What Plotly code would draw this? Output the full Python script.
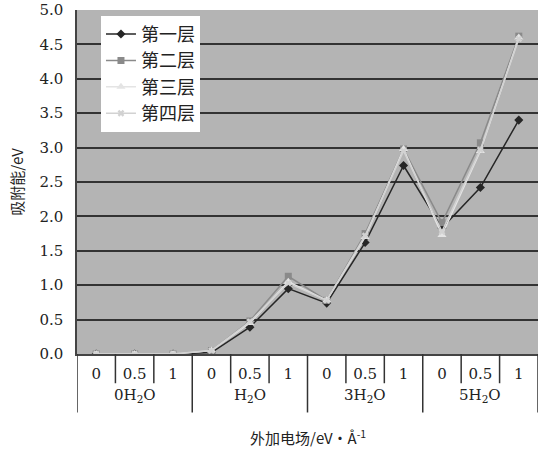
import plotly.graph_objects as go

# Grouped x categories: water content / applied field
group_names = ["0H<sub>2</sub>O", "H<sub>2</sub>O", "3H<sub>2</sub>O", "5H<sub>2</sub>O"]
field_labels = ["0", "0.5", "1"]

# Adsorption energy (eV) for each layer
layer1 = [0.0, 0.0, 0.0, 0.02, 0.39, 0.95, 0.74, 1.62, 2.74, 1.83, 2.42, 3.40]
layer2 = [0.0, 0.0, 0.0, 0.05, 0.48, 1.13, 0.78, 1.75, 2.98, 1.91, 3.07, 4.62]
layer3 = [0.0, 0.0, 0.0, 0.05, 0.45, 1.05, 0.78, 1.70, 2.98, 1.73, 2.95, 4.60]
layer4 = [0.0, 0.0, 0.0, 0.05, 0.47, 1.03, 0.78, 1.72, 2.95, 1.78, 2.97, 4.58]

names = ["第一层", "第二层", "第三层", "第四层"]
series = [layer1, layer2, layer3, layer4]
colors = ["#262626", "#8a8a8a", "#e4e4e4", "#d2d2d2"]
symbols = ["diamond", "square", "triangle-up", "x"]
sizes = [7, 7, 8, 6]

serif = "DejaVu Serif"
cjk = "Noto Sans CJK SC"

n_sub = len(field_labels)
n_cat = n_sub * len(group_names)
xpos = list(range(n_cat))
ticktext = field_labels * len(group_names)

fig = go.Figure()
for name, vals, c, s, sz in zip(names, series, colors, symbols, sizes):
    fig.add_trace(go.Scatter(
        x=xpos, y=vals, name=name, mode="lines+markers",
        line=dict(color=c, width=1.5),
        marker=dict(color=c, symbol=s, size=sz),
    ))

# Category separators below the axis: short between fields, long between groups
for b in range(n_cat + 1):
    long_div = (b % n_sub == 0)
    fig.add_shape(
        type="line", xref="x", yref="paper",
        x0=b - 0.5, x1=b - 0.5, y0=0, y1=-0.17 if long_div else -0.085,
        line=dict(color="#333", width=1.5),
    )

# Group labels centred under each group of fields
for g, gname in enumerate(group_names):
    fig.add_annotation(
        x=g * n_sub + (n_sub - 1) / 2, y=-0.122, xref="x", yref="paper",
        text=gname, showarrow=False, yanchor="middle",
        font=dict(family=serif, size=15, color="#222"),
    )

fig.add_annotation(
    x=0.5, y=-0.242, xref="paper", yref="paper",
    text="外加电场/eV·Å<sup>-1</sup>", showarrow=False, yanchor="middle",
    font=dict(family=cjk, size=15, color="#222"),
)

fig.update_layout(
    width=538, height=451,
    margin=dict(l=77, r=0, t=10, b=97),
    paper_bgcolor="white",
    plot_bgcolor="#b4b4b4",
    font=dict(family=serif, size=15, color="#222"),
    showlegend=True,
    legend=dict(
        x=0.052, y=0.983, xanchor="left", yanchor="top",
        bgcolor="white", borderwidth=0,
        font=dict(family=cjk, size=18, color="#222"),
        tracegroupgap=0, itemwidth=30,
    ),
    xaxis=dict(
        range=[-0.5, n_cat - 0.5],
        tickvals=xpos, ticktext=ticktext,
        showgrid=False, zeroline=False,
        showline=True, linecolor="#444", linewidth=1.5,
        ticks="", ticklabelstandoff=5,
        tickfont=dict(family=serif, size=15, color="#222"),
    ),
    yaxis=dict(
        range=[0, 5.0], dtick=0.5, tickformat=".1f",
        showgrid=True, gridcolor="#333", gridwidth=1.5,
        zeroline=False,
        showline=True, linecolor="#444", linewidth=1.5,
        ticks="", ticklabelstandoff=9,
        tickfont=dict(family=serif, size=15, color="#222"),
        title=dict(text="吸附能/eV", font=dict(family=cjk, size=15), standoff=12),
    ),
)

fig.write_html("out.html")
